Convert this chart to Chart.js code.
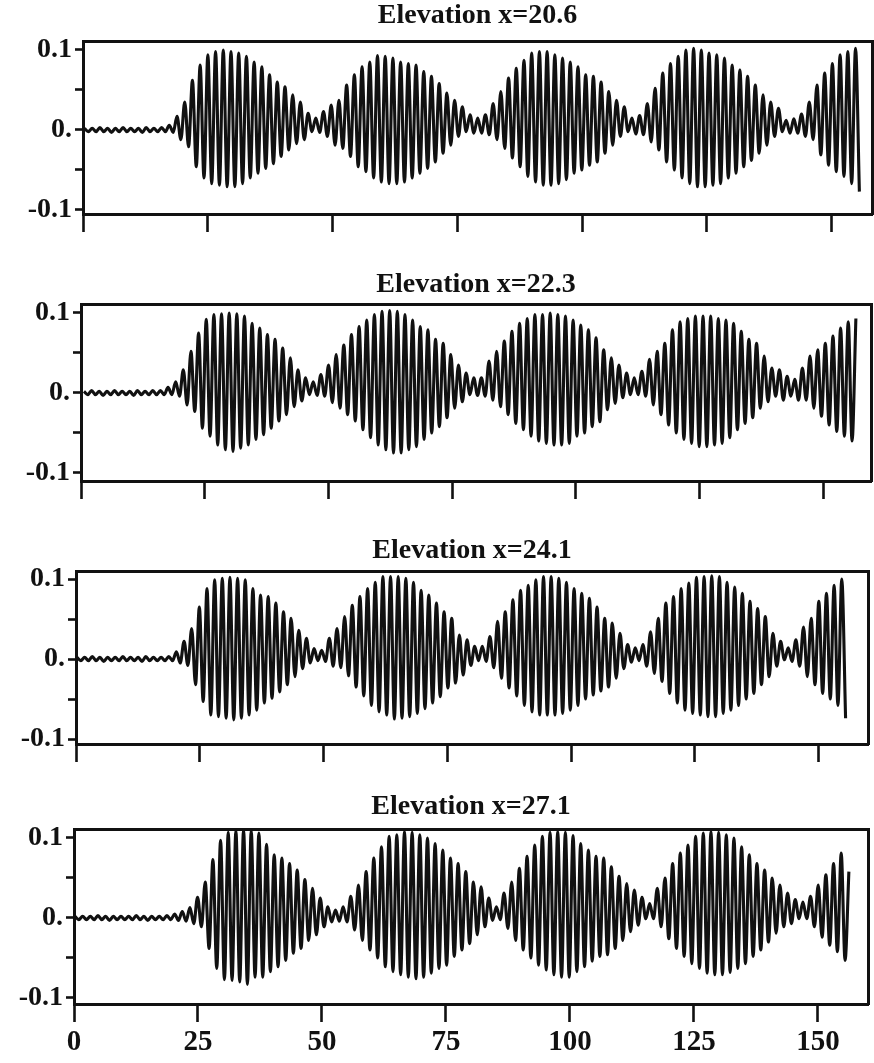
<!DOCTYPE html>
<html><head><meta charset="utf-8">
<script src="https://cdn.jsdelivr.net/npm/chart.js@4.4.1/dist/chart.umd.min.js"></script>
<style>
html,body{margin:0;padding:0;background:#fff;}
#wrap{position:relative;width:874px;height:1063px;overflow:hidden;background:#fff;}
canvas{position:absolute;left:0;}
</style></head><body><div id="wrap">
<canvas id="c1" width="874" height="262" style="top:0px"></canvas>
<canvas id="c2" width="874" height="266" style="top:262px"></canvas>
<canvas id="c3" width="874" height="260" style="top:528px"></canvas>
<canvas id="c4" width="874" height="275" style="top:788px"></canvas>
</div>
<script>
// ---- data ----
const wavePeriod = 1.545;           // seconds between successive crests
const xTickValues = [0, 25, 50, 75, 100, 125, 150];
const xTickLabels = ['0', '25', '50', '75', '100', '125', '150'];
const yTickValues = [-0.1, -0.05, 0, 0.05, 0.1];
const yTickLabels = ['-0.1', '', '0.', '', '0.1'];
const panelTitles = ['Elevation x=20.6', 'Elevation x=22.3', 'Elevation x=24.1', 'Elevation x=27.1'];

const p1Start = 0.3;
const p1Crest = [.002,.002,.003,.002,.002,.003,.002,.002,.003,.002,
 .003,.006,.017,.035,.062,.081,.094,.098,.100,.098,
 .096,.092,.085,.079,.069,.060,.054,.044,.035,.021,
 .015,.023,.031,.037,.056,.069,.079,.085,.093,.092,
 .090,.085,.083,.081,.073,.067,.058,.046,.037,.029,
 .019,.015,.019,.033,.048,.065,.077,.087,.096,.098,
 .098,.094,.090,.085,.079,.069,.067,.060,.048,.037,
 .029,.015,.018,.033,.052,.071,.083,.092,.100,.102,
 .100,.096,.094,.090,.081,.075,.067,.056,.044,.035,
 .027,.012,.014,.020,.035,.056,.071,.083,.094,.098,
 .102];
const p1Trough = [-.002,-.002,-.002,-.003,-.002,-.002,-.002,-.003,-.002,-.002,
 -.002,-.003,-.012,-.021,-.046,-.060,-.067,-.069,-.071,-.071,
 -.067,-.060,-.054,-.048,-.042,-.033,-.025,-.017,-.012,-.002,
 -.003,-.008,-.019,-.023,-.033,-.046,-.052,-.060,-.065,-.067,
 -.067,-.065,-.060,-.054,-.048,-.040,-.029,-.019,-.008,-.002,
 -.004,-.004,-.006,-.012,-.023,-.035,-.046,-.058,-.065,-.069,
 -.069,-.067,-.062,-.054,-.050,-.044,-.040,-.029,-.019,-.008,
 -.002,-.005,-.006,-.015,-.025,-.040,-.050,-.060,-.067,-.071,
 -.071,-.069,-.067,-.060,-.054,-.046,-.038,-.029,-.019,-.008,
 -.002,-.004,-.004,-.008,-.012,-.031,-.044,-.052,-.058,-.067,
 -.077];

const p2Start = 0.6;
const p2Crest = [.002,.003,.002,.002,.003,.002,.002,.003,.002,.003,
 .003,.007,.014,.029,.052,.075,.092,.098,.099,.100,
 .099,.096,.087,.081,.073,.067,.056,.044,.029,.019,
 .014,.023,.035,.048,.060,.073,.083,.091,.098,.102,
 .103,.102,.098,.091,.083,.079,.067,.062,.048,.035,
 .025,.019,.019,.040,.052,.065,.077,.087,.093,.098,
 .098,.100,.098,.096,.091,.085,.079,.069,.054,.044,
 .035,.025,.019,.027,.042,.052,.062,.079,.089,.093,
 .096,.096,.096,.093,.091,.087,.077,.067,.062,.046,
 .031,.029,.021,.017,.031,.046,.054,.062,.071,.081,
 .089,.093];
const p2Trough = [-.002,-.002,-.003,-.002,-.002,-.002,-.003,-.002,-.002,-.002,
 -.002,-.002,-.004,-.015,-.023,-.044,-.054,-.065,-.071,-.073,
 -.069,-.065,-.058,-.052,-.044,-.035,-.027,-.017,-.010,-.002,
 -.003,-.004,-.012,-.019,-.027,-.035,-.046,-.056,-.065,-.071,
 -.075,-.075,-.071,-.067,-.058,-.050,-.042,-.031,-.019,-.011,
 -.002,-.003,-.004,-.009,-.017,-.027,-.038,-.046,-.054,-.060,
 -.063,-.065,-.065,-.063,-.054,-.050,-.042,-.036,-.021,-.013,
 -.006,-.002,-.002,-.004,-.015,-.027,-.040,-.050,-.058,-.063,
 -.067,-.067,-.065,-.063,-.056,-.046,-.038,-.031,-.019,-.011,
 -.004,-.009,-.004,-.009,-.009,-.019,-.029,-.040,-.048,-.054,
 -.060];

const p3Start = 0.2;
const p3Crest = [.002,.002,.003,.002,.002,.002,.003,.002,.002,.003,
 .002,.002,.003,.009,.022,.038,.065,.088,.099,.101,
 .102,.101,.099,.088,.080,.078,.070,.059,.051,.036,
 .026,.013,.011,.026,.038,.053,.067,.078,.088,.096,
 .103,.103,.103,.101,.096,.086,.080,.070,.059,.051,
 .030,.024,.016,.016,.028,.047,.059,.074,.086,.092,
 .099,.103,.103,.101,.096,.088,.082,.076,.065,.051,
 .045,.032,.018,.014,.018,.034,.051,.070,.078,.088,
 .095,.102,.103,.104,.103,.096,.090,.082,.072,.063,
 .053,.032,.022,.014,.024,.040,.051,.072,.082,.092,
 .100];
const p3Trough = [-.002,-.002,-.002,-.003,-.002,-.002,-.002,-.002,-.003,-.002,
 -.002,-.002,-.002,-.005,-.008,-.032,-.053,-.070,-.072,-.074,
 -.076,-.074,-.070,-.064,-.055,-.049,-.041,-.032,-.022,-.012,
 -.005,-.002,-.003,-.009,-.011,-.021,-.035,-.046,-.058,-.066,
 -.070,-.075,-.074,-.072,-.068,-.062,-.055,-.047,-.036,-.030,
 -.020,-.008,-.002,-.003,-.011,-.024,-.036,-.046,-.058,-.066,
 -.070,-.070,-.070,-.068,-.064,-.058,-.050,-.045,-.040,-.035,
 -.024,-.012,-.004,-.002,-.009,-.018,-.028,-.043,-.055,-.064,
 -.068,-.070,-.072,-.072,-.068,-.064,-.058,-.050,-.043,-.032,
 -.022,-.009,-.001,-.003,-.009,-.022,-.032,-.043,-.050,-.058,
 -.074];

const p4Start = 0.2;
const p4Crest = [.002,.002,.002,.003,.002,.002,.002,.002,.003,.002,
 .002,.002,.003,.005,.008,.013,.026,.045,.073,.097,
 .107,.109,.110,.109,.106,.092,.079,.075,.068,.060,
 .048,.037,.025,.014,.010,.014,.027,.041,.058,.075,
 .089,.102,.104,.108,.107,.104,.100,.093,.085,.075,
 .068,.058,.045,.039,.025,.014,.031,.045,.062,.077,
 .091,.102,.107,.108,.107,.103,.093,.085,.077,.075,
 .064,.052,.043,.035,.026,.018,.037,.050,.068,.081,
 .091,.102,.106,.108,.107,.104,.100,.089,.079,.068,
 .060,.050,.041,.031,.023,.020,.027,.041,.054,.068,
 .081,.058];
const p4Trough = [-.002,-.002,-.002,-.002,-.003,-.002,-.002,-.002,-.002,-.003,
 -.002,-.002,-.002,-.003,-.004,-.007,-.011,-.038,-.063,-.077,
 -.078,-.080,-.083,-.074,-.074,-.067,-.061,-.053,-.044,-.038,
 -.028,-.021,-.011,-.005,-.004,-.005,-.015,-.028,-.040,-.050,
 -.061,-.067,-.071,-.074,-.076,-.074,-.069,-.063,-.059,-.048,
 -.040,-.032,-.021,-.011,-.003,-.002,-.013,-.028,-.040,-.050,
 -.059,-.065,-.071,-.074,-.074,-.067,-.061,-.054,-.048,-.046,
 -.038,-.028,-.017,-.009,-.001,-.001,-.011,-.026,-.038,-.048,
 -.057,-.063,-.069,-.071,-.071,-.068,-.063,-.057,-.048,-.040,
 -.030,-.019,-.011,-.007,-.001,-.001,-.011,-.024,-.034,-.042,
 -.053];

// ---- rendering ----
const INK = '#111111';
const SERIF = "'Liberation Serif', 'Times New Roman', serif";

function buildSeries(start, crest, trough) {
  const pts = [];
  for (let n = 0; n < crest.length; n++) {
    pts.push({x: start + n * wavePeriod, y: crest[n]});
    if (n < trough.length) pts.push({x: start + (n + 0.5) * wavePeriod, y: trough[n]});
  }
  return pts;
}

const panels = [
  {id:'c1', top:0,   h:262, L:83, R:872, aTop:41,  aBot:214,  xMax:158.1, yMin:-0.105,  yMax:0.1112, tPad:2, labels:false, start:p1Start, crest:p1Crest, trough:p1Trough},
  {id:'c2', top:262, h:266, L:81, R:871, aTop:304, aBot:481,  xMax:159.7, yMin:-0.110,  yMax:0.1112, tPad:9, labels:false, start:p2Start, crest:p2Crest, trough:p2Trough},
  {id:'c3', top:528, h:260, L:76, R:868, aTop:571, aBot:744,  xMax:160.0, yMin:-0.1062, yMax:0.110,  tPad:9, labels:false, start:p3Start, crest:p3Crest, trough:p3Trough},
  {id:'c4', top:788, h:275, L:74, R:868, aTop:829, aBot:1004, xMax:160.1, yMin:-0.1075, yMax:0.1112, tPad:5, labels:true,  start:p4Start, crest:p4Crest, trough:p4Trough}
];

panels.forEach((p, i) => {
  new Chart(document.getElementById(p.id), {
    type: 'line',
    data: {
      datasets: [{
        data: buildSeries(p.start, p.crest, p.trough),
        borderColor: INK,
        borderWidth: 3.1,
        pointRadius: 0,
        fill: false,
        cubicInterpolationMode: 'monotone',
        xAxisID: 'x', yAxisID: 'y'
      }]
    },
    options: {
      responsive: false,
      devicePixelRatio: 1,
      animation: false,
      events: [],
      layout: {padding: 0},
      plugins: {legend: {display: false}, tooltip: {enabled: false}, title: {display: false}},
      scales: {
        x: {
          type: 'linear', position: 'bottom', min: 0, max: p.xMax,
          afterBuildTicks: s => { s.ticks = xTickValues.map(v => ({value: v})); },
          afterFit: s => { s.height = p.top + p.h - p.aBot; },
          ticks: {
            display: p.labels, color: INK, padding: 6, autoSkip: false, maxRotation: 0,
            font: {family: SERIF, size: 29, weight: 'bold', lineHeight: 1},
            callback: (v, idx) => xTickLabels[idx]
          },
          grid: {display: true, drawOnChartArea: false, drawTicks: true, tickLength: 18, tickColor: INK, tickWidth: 2.6, color: INK},
          border: {display: true, color: INK, width: 3}
        },
        x2: {
          type: 'linear', position: 'top', min: 0, max: p.xMax, display: true,
          afterFit: s => { s.height = p.aTop - p.top; },
          ticks: {display: false},
          grid: {display: false, drawTicks: false},
          border: {display: true, color: INK, width: 3},
          title: {display: true, text: panelTitles[i], color: INK, padding: {top: p.tPad, bottom: 0},
                  font: {family: SERIF, size: 28, weight: 'bold', lineHeight: 1}}
        },
        y: {
          type: 'linear', position: 'left', min: p.yMin, max: p.yMax,
          afterBuildTicks: s => { s.ticks = yTickValues.map(v => ({value: v})); },
          afterFit: s => { s.width = p.L; },
          ticks: {
            display: true, color: INK, padding: 3, autoSkip: false,
            font: {family: SERIF, size: 28, weight: 'bold', lineHeight: 1},
            callback: (v, idx) => yTickLabels[idx]
          },
          grid: {display: true, drawOnChartArea: false, drawTicks: true, tickLength: 8, tickColor: INK, tickWidth: 2.6, color: INK},
          border: {display: true, color: INK, width: 3}
        },
        y2: {
          type: 'linear', position: 'right', min: p.yMin, max: p.yMax, display: true,
          afterFit: s => { s.width = 874 - p.R; },
          ticks: {display: false},
          grid: {display: false, drawTicks: false},
          border: {display: true, color: INK, width: 3}
        }
      }
    }
  });
});
</script>
</body></html>
